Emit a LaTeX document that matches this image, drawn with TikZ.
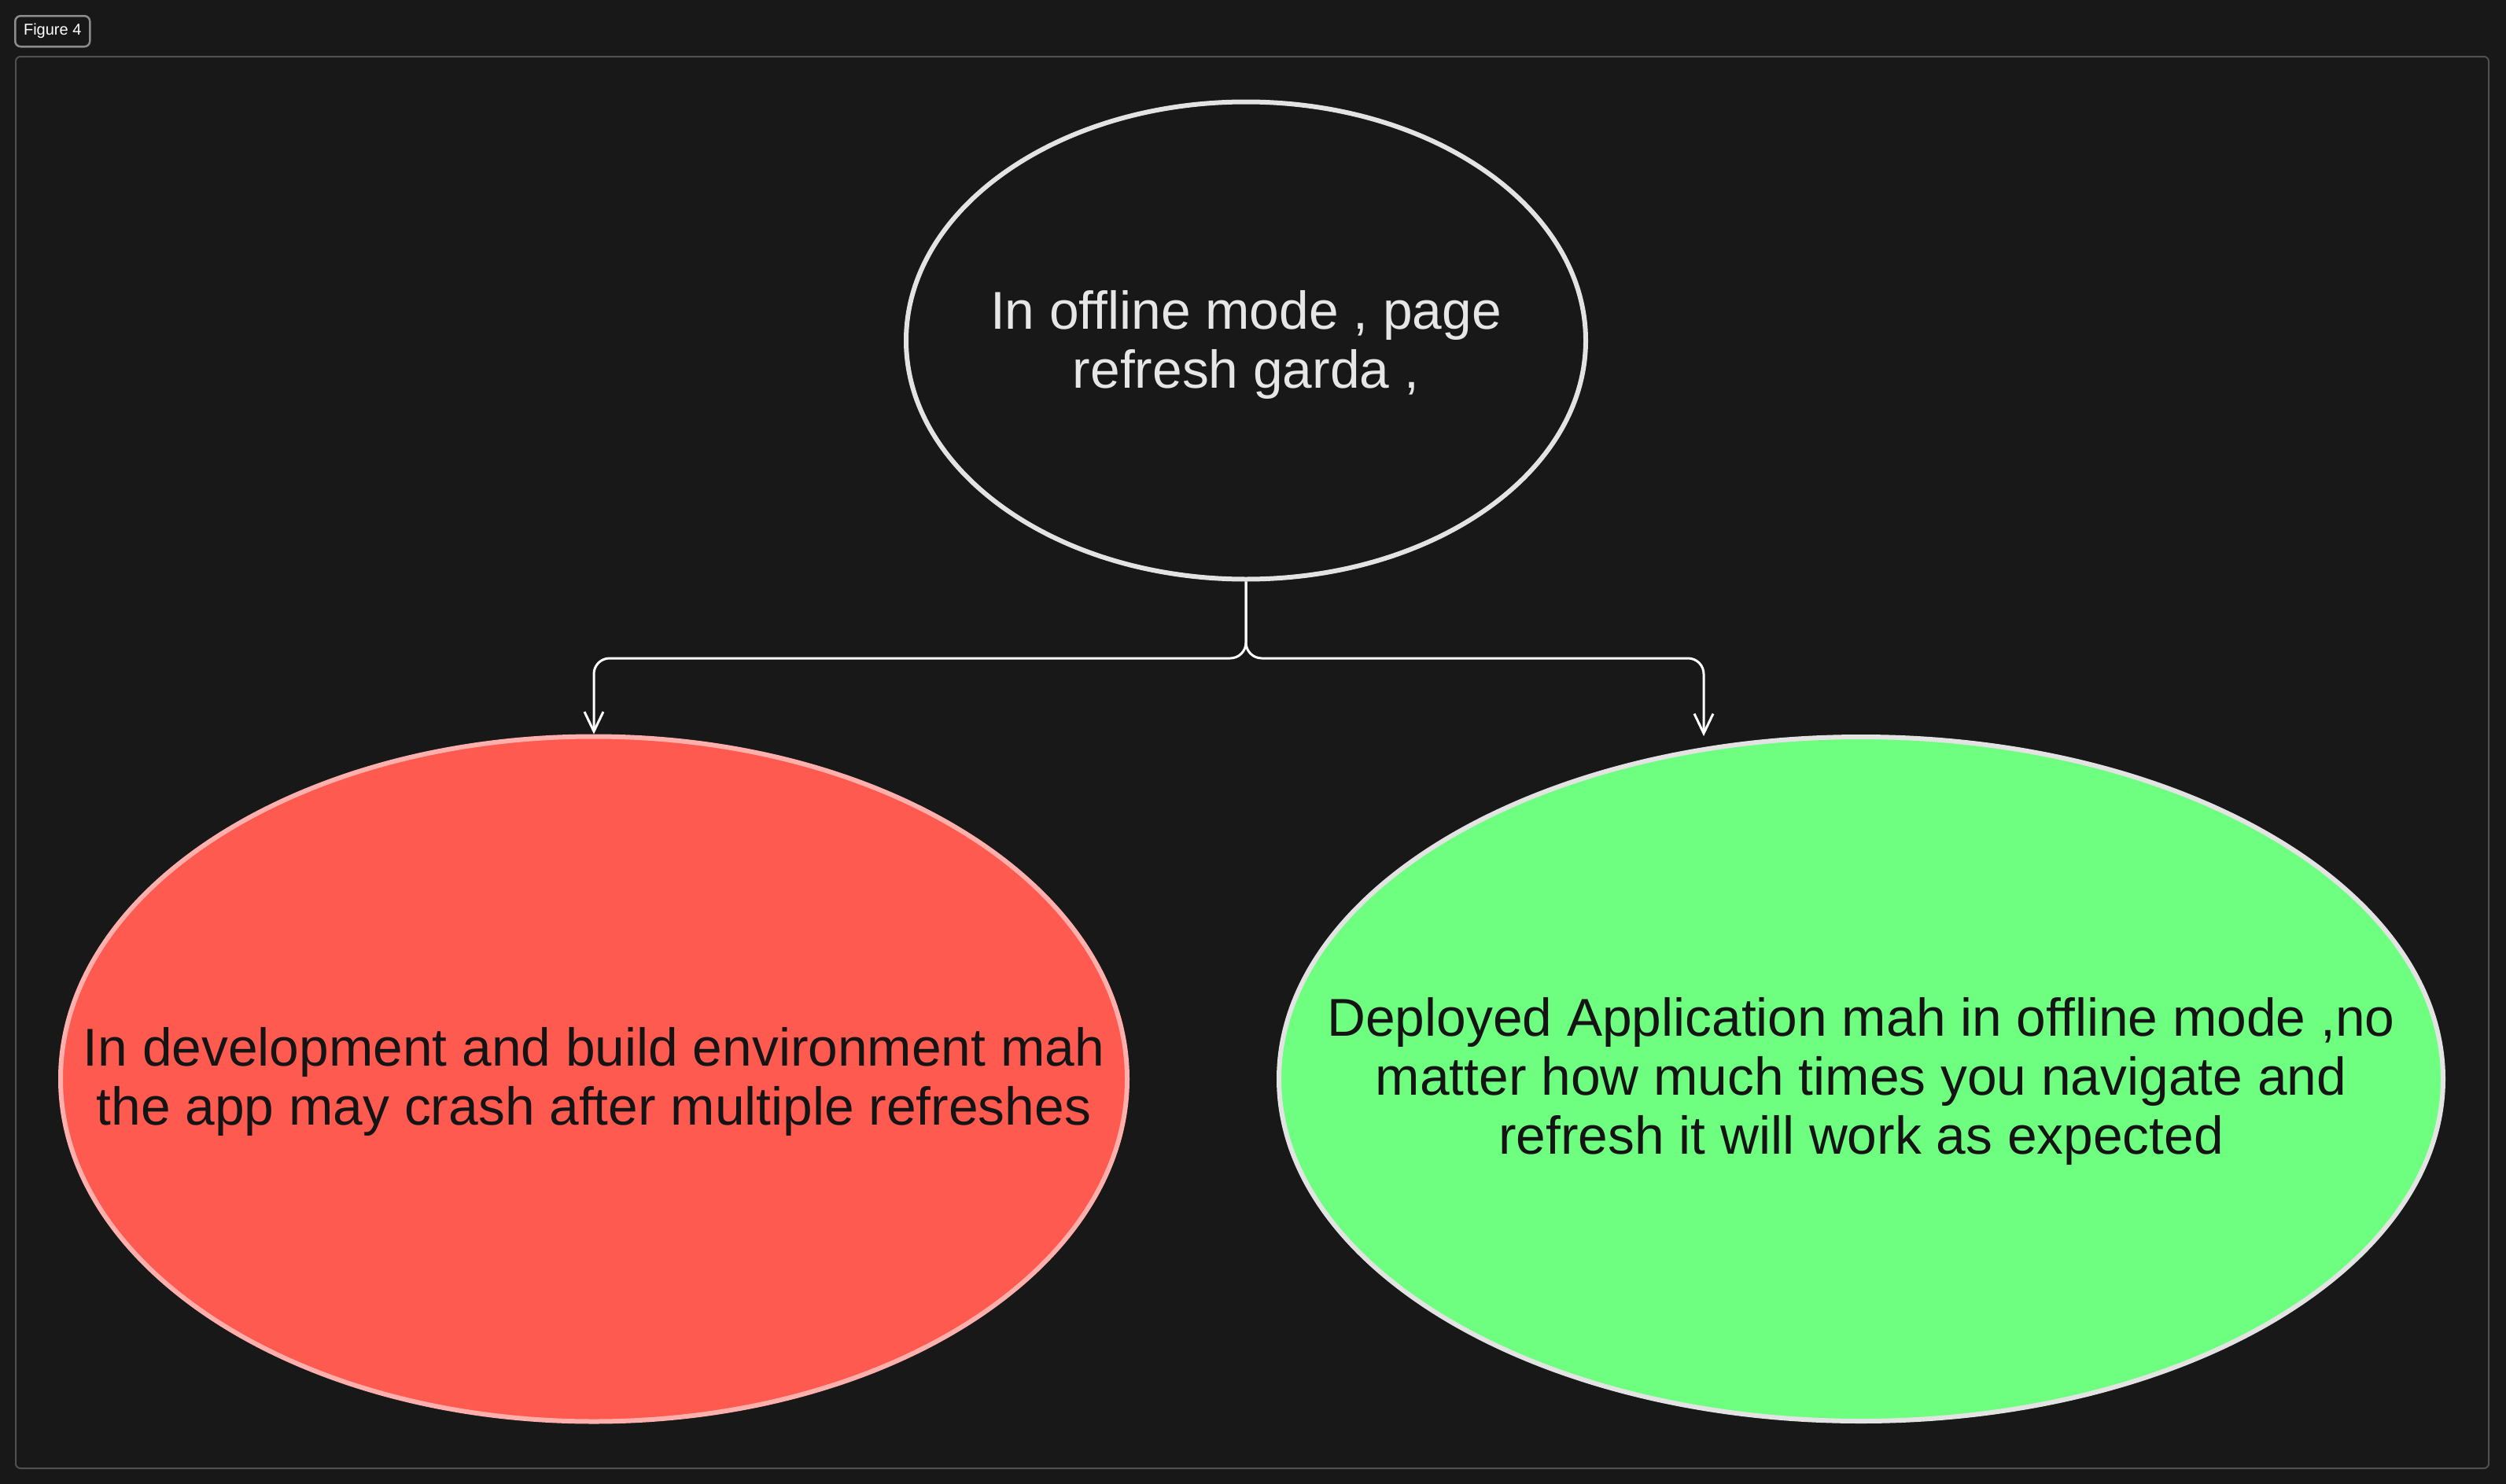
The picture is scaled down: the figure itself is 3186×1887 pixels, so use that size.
\documentclass[tikz,border=0pt]{standalone}
\usepackage{fontspec}
\setmainfont{Liberation Sans}
\usetikzlibrary{shapes.geometric,arrows.meta}
\definecolor{bg}{HTML}{181818}
\definecolor{framegray}{HTML}{505050}
\definecolor{labelgray}{HTML}{8C8C8C}
\definecolor{edgegray}{HTML}{E3E3E3}
\definecolor{textlight}{HTML}{E6E6E6}
\definecolor{redfill}{HTML}{FF5A50}
\definecolor{rededge}{HTML}{FFB0AD}
\definecolor{greenfill}{HTML}{6EFF80}
\definecolor{darktext}{HTML}{141414}
\begin{document}
\begin{tikzpicture}[x=1pt,y=1pt,
  bubble/.style={ellipse, line width=6pt, inner sep=0pt},
  conn/.style={draw=white, line width=3pt, rounded corners=20pt,
    -{Straight Barb[length=25pt,width=24pt]}},
  lbl/.style={align=center, font=\fontsize{67.7}{75}\selectfont}]
\fill[bg] (0,0) rectangle (3186,-1887);
\useasboundingbox (0,0) rectangle (3186,-1887);
\node[draw=framegray, line width=2pt, rounded corners=6pt, minimum width=3144pt,
  minimum height=1795pt, inner sep=0pt, anchor=north west] (frame) at (19,-71) {};
\node[draw=labelgray, line width=2.5pt, rounded corners=7pt, anchor=north west,
  minimum width=95pt, minimum height=39pt, inner sep=0pt, text=white,
  font=\fontsize{20}{24}\selectfont] (fig) at (18,-19) {Figure 4};
\node[bubble, draw=edgegray, minimum width=864pt, minimum height=607pt] (top) at (1584,-433) {};
\node[bubble, draw=rededge, fill=redfill, minimum width=1356pt, minimum height=871pt] (left) at (755,-1372) {};
\node[bubble, draw=edgegray, fill=greenfill, minimum width=1480pt, minimum height=870pt] (right) at (2366,-1372) {};
\node[lbl, text=textlight] (toptext) at ([yshift=-5pt]top.center) {In offline mode , page\\refresh garda ,};
\node[lbl, text=darktext] (lefttext) at ([yshift=-3pt]left.center) {In development and build environment mah\\the app may crash after multiple refreshes};
\node[lbl, text=darktext] (righttext) at ([yshift=-3pt]right.center) {Deployed Application mah in offline mode ,no\\matter how much times you navigate and\\refresh it will work as expected};
\coordinate (j) at (1584,-837);
\coordinate (rt) at (2166,-936);
\draw[conn] (top.south) -- (j) -| (left.north);
\draw[conn] (top.south) -- (j) -| (rt);
\end{tikzpicture}
\end{document}
